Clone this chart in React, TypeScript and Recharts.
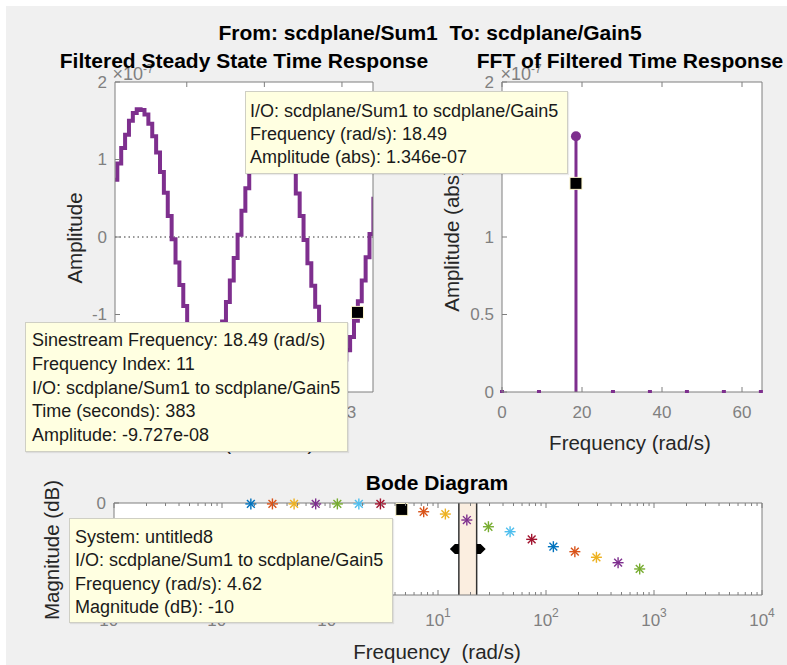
import React from 'react';
import {
  ComposedChart, Line, Bar, Scatter, XAxis, YAxis, CartesianGrid,
  ReferenceLine, ReferenceArea, ReferenceDot,
} from 'recharts';

// ---- Filtered steady state time response (amplitude in units of 1e-7) ----
const timeSec = [
  382.411, 382.421, 382.431, 382.441, 382.451, 382.461, 382.471, 382.481, 382.491, 382.501,
  382.511, 382.521, 382.531, 382.541, 382.551, 382.561, 382.571, 382.581, 382.591, 382.601,
  382.611, 382.621, 382.631, 382.641, 382.651, 382.661, 382.671, 382.681, 382.691, 382.701,
  382.711, 382.721, 382.731, 382.741, 382.751, 382.761, 382.771, 382.781, 382.791, 382.801,
  382.811, 382.821, 382.831, 382.841, 382.851, 382.861, 382.871, 382.881, 382.891, 382.901,
  382.911, 382.921, 382.931, 382.941, 382.951, 382.961, 382.971, 382.981, 382.991, 383.001,
  383.011, 383.021, 383.031, 383.041, 383.051, 383.061, 383.071, 383.081,
];
const timeAmp = [
  0.74, 0.95, 1.15, 1.32, 1.5, 1.6, 1.65, 1.64, 1.58, 1.46,
  1.3, 1.09, 0.84, 0.57, 0.27, -0.03, -0.33, -0.62, -0.89, -1.13,
  -1.34, -1.49, -1.6, -1.65, -1.64, -1.58, -1.46, -1.3, -1.09, -0.84,
  -0.56, -0.27, 0.03, 0.34, 0.63, 0.9, 1.14, 1.34, 1.49, 1.6,
  1.65, 1.64, 1.58, 1.46, 1.29, 1.08, 0.84, 0.56, 0.27, -0.04,
  -0.34, -0.63, -0.9, -1.14, -1.34, -1.49, -1.6, -1.65, -1.64, -1.58,
  -1.46, -1.29, -1.08, -0.83, -0.56, -0.26, 0.04, 0.52,
];
const timeTicks = [382.6, 382.8, 383];
const timeAmpTicks = [-2, -1, 0, 1, 2];
const timeTip = { t: 383.04, v: -0.9727 };

// ---- FFT (amplitude in units of 1e-7) ----
const fftFreq = [0, 9.245, 18.49, 27.74, 36.98, 46.23, 55.47, 64.72];
const fftAmp = [0, 0, 1.65, 0, 0, 0, 0, 0];
const fftFreqTicks = [0, 20, 40, 60];
const fftAmpTicks = [0, 0.5, 1, 1.5, 2];
const fftTip = { f: 18.49, a: 1.346 };

// ---- Bode magnitude ----
const bodeFreq = [0.185, 0.293, 0.465, 0.737, 1.17, 1.85, 2.93, 4.62, 7.37, 11.7, 18.49, 29.3, 46.5, 73.7, 117, 185, 293, 465, 737];
const bodeMag = [-1, -1, -1, -1, -1, -1, -1, -7, -9.5, -12, -18.5, -25.8, -31.2, -39.5, -47.5, -52.9, -59, -64.9, -71.7];
const bodeDecades = [0.01, 0.1, 1, 10, 100, 1000, 10000];
const bodeMinor = [2, 3, 4, 5, 6, 7, 8, 9];
const bodeMagTicks = [-100, -50, 0];
const bodeBand = [15.6, 22.8];
const bodeTip = { f: 4.62, m: -7 };

const matlabColors = ['#0072BD', '#D95319', '#EDB120', '#7E2F8E', '#77AC30', '#4DBEEE', '#A2142F'];

const FONT = '"Liberation Sans", Arial, Helvetica, sans-serif';
const BOX = '#7f7f7f';
const TICK_TXT = '#808080';
const LABEL = '#262626';
const PURPLE = '#7E2F8E';
const TIP_BG = '#ffffe1';

const timeData = timeSec.map((t, i) => ({ t, v: timeAmp[i] }));
const fftData = fftFreq.map((f, i) => ({ f, a: fftAmp[i] }));
const bodeData = bodeFreq.map((f, i) => ({ f, m: bodeMag[i], color: matlabColors[i % matlabColors.length] }));
const bodeTicks = [
  ...bodeDecades,
  ...bodeDecades.slice(0, -1).flatMap((d) => bodeMinor.map((k) => k * d)),
].sort((a, b) => a - b);

const fmt = (v: number) => String(v);

// inward pointing ticks, MATLAB style
const bottomTick = (label: boolean, len = 5) => (p: any) => (
  <g>
    <line x1={p.x} x2={p.x} y1={p.y} y2={p.y - len} stroke={BOX} />
    {label && (
      <text x={p.x} y={p.y + 20} dy="0.35em" textAnchor="middle" fill={TICK_TXT} fontSize={17} fontFamily={FONT}>
        {fmt(p.payload.value)}
      </text>
    )}
  </g>
);
const topTick = (len = 5) => (p: any) => (
  <line x1={p.x} x2={p.x} y1={p.y} y2={p.y + len} stroke={BOX} />
);
const leftTick = (len = 5) => (p: any) => (
  <g>
    <line x1={p.x} x2={p.x + len} y1={p.y} y2={p.y} stroke={BOX} />
    <text x={p.x - 8} y={p.y} dy="0.35em" textAnchor="end" fill={TICK_TXT} fontSize={17} fontFamily={FONT}>
      {fmt(p.payload.value)}
    </text>
  </g>
);
const rightTick = (len = 5) => (p: any) => (
  <line x1={p.x} x2={p.x - len} y1={p.y} y2={p.y} stroke={BOX} />
);

const isDecade = (v: number) => bodeDecades.includes(v);
const bodeBottomTick = (p: any) => {
  const v = p.payload.value;
  const major = isDecade(v);
  return (
    <g>
      <line x1={p.x} x2={p.x} y1={p.y} y2={p.y - (major ? 5 : 3)} stroke={BOX} />
      {major && (
        <text x={p.x} y={p.y + 25} dy="0.35em" textAnchor="middle" fill={TICK_TXT} fontSize={17} fontFamily={FONT}>
          10<tspan dy={-9} fontSize={12}>{Math.round(Math.log10(v))}</tspan>
        </text>
      )}
    </g>
  );
};
const bodeTopTick = (p: any) => {
  const major = isDecade(p.payload.value);
  return <line x1={p.x} x2={p.x} y1={p.y} y2={p.y + (major ? 5 : 3)} stroke={BOX} />;
};

const tipSquare = (p: any) => (
  <rect x={p.cx - 6} y={p.cy - 6} width={12} height={12} fill="#000" stroke="#fff8d0" strokeWidth={1} />
);
const star = (p: any) => {
  const r = 5.5;
  const d = 3.9;
  const c = p.payload.color;
  return (
    <g stroke={c} strokeWidth={1.4}>
      <line x1={p.cx - r} x2={p.cx + r} y1={p.cy} y2={p.cy} />
      <line x1={p.cx} x2={p.cx} y1={p.cy - r} y2={p.cy + r} />
      <line x1={p.cx - d} x2={p.cx + d} y1={p.cy - d} y2={p.cy + d} />
      <line x1={p.cx - d} x2={p.cx + d} y1={p.cy + d} y2={p.cy - d} />
    </g>
  );
};
const stemHead = (p: any) =>
  p.payload.a > 0 ? (
    <circle cx={p.cx} cy={p.cy} r={5} fill={PURPLE} />
  ) : (
    <rect x={p.cx - 2} y={p.cy - 2} width={4} height={3} fill={PURPLE} />
  );
const handleLeft = (p: any) => (
  <polygon points={`${p.cx},${p.cy - 5} ${p.cx - 4},${p.cy - 5} ${p.cx - 9},${p.cy} ${p.cx - 4},${p.cy + 5} ${p.cx},${p.cy + 5}`} fill="#000" />
);
const handleRight = (p: any) => (
  <polygon points={`${p.cx},${p.cy - 5} ${p.cx + 4},${p.cy - 5} ${p.cx + 9},${p.cy} ${p.cx + 4},${p.cy + 5} ${p.cx},${p.cy + 5}`} fill="#000" />
);

const W = 787;
const H = 665;
const layer: React.CSSProperties = { position: 'absolute', left: 0, top: 0 };

// plot box (left, top, right, bottom) -> margins; every axis is 1px thick
const boxMargin = (l: number, t: number, r: number, b: number) => ({
  left: l - 1, top: t - 1, right: W - r - 1, bottom: H - b - 1,
});
const axisCommon = {
  tickSize: 0, tickMargin: 0, tickLine: false, stroke: BOX, interval: 0 as const,
};

const text = (left: number, top: number, size: number, extra: React.CSSProperties = {}): React.CSSProperties => ({
  position: 'absolute', left, top, transform: 'translate(-50%, -50%)', fontFamily: FONT,
  fontSize: size, whiteSpace: 'pre', lineHeight: 1, ...extra,
});
const vtext = (left: number, top: number, size: number): React.CSSProperties => ({
  ...text(left, top, size, { color: LABEL }), transform: 'translate(-50%, -50%) rotate(-90deg)',
});
const tip = (left: number, top: number, width: number, height: number, pad: string, lh: number): React.CSSProperties => ({
  position: 'absolute', left, top, width, height, boxSizing: 'border-box', background: TIP_BG,
  border: '1px solid #cfcfc4', padding: pad, fontFamily: FONT, fontSize: 18, lineHeight: `${lh}px`,
  color: '#1a1a1a', whiteSpace: 'nowrap', boxShadow: '1px 1px 1px rgba(0,0,0,0.08)',
});

export default function App() {
  return (
    <div style={{ position: 'absolute', left: 0, top: 0, width: W, height: H, background: '#fff', overflow: 'hidden' }}>
      <div style={{ position: 'absolute', left: 6, top: 6, width: W - 6, height: H - 6, background: '#f0f0f0' }} />

      {/* time response */}
      <div style={layer}>
        <ComposedChart width={W} height={H} data={timeData} margin={boxMargin(115, 82, 373, 392)}>
          <CartesianGrid fill="#fff" horizontal={false} vertical={false} />
          <XAxis dataKey="t" type="number" domain={[382.415, 383.08]} allowDataOverflow ticks={timeTicks} height={1}
            {...axisCommon} tick={bottomTick(true)} />
          <XAxis xAxisId="top" orientation="top" dataKey="t" type="number" domain={[382.415, 383.08]} allowDataOverflow
            ticks={timeTicks} height={1} {...axisCommon} tick={topTick()} />
          <YAxis type="number" domain={[-2, 2]} ticks={timeAmpTicks} width={1} {...axisCommon} tick={leftTick()} />
          <YAxis yAxisId="r" orientation="right" type="number" domain={[-2, 2]} ticks={timeAmpTicks} width={1}
            {...axisCommon} tick={rightTick()} />
          <ReferenceLine y={0} stroke="#333" strokeDasharray="1.5 3" />
          <Line type="stepAfter" dataKey="v" stroke={PURPLE} strokeWidth={4} dot={false} isAnimationActive={false} />
          <Scatter data={[timeTip]} dataKey="v" shape={tipSquare} isAnimationActive={false} />
        </ComposedChart>
      </div>

      {/* FFT */}
      <div style={layer}>
        <ComposedChart width={W} height={H} data={fftData} margin={boxMargin(502, 82, 762, 392)}>
          <CartesianGrid fill="#fff" horizontal={false} vertical={false} />
          <XAxis dataKey="f" type="number" domain={[0, 65]} ticks={fftFreqTicks} height={1}
            {...axisCommon} tick={bottomTick(true)} />
          <XAxis xAxisId="top" orientation="top" dataKey="f" type="number" domain={[0, 65]}
            ticks={fftFreqTicks} height={1} {...axisCommon} tick={topTick()} />
          <YAxis type="number" domain={[0, 2]} ticks={fftAmpTicks} width={1} {...axisCommon} tick={leftTick()} />
          <YAxis yAxisId="r" orientation="right" type="number" domain={[0, 2]} ticks={fftAmpTicks} width={1}
            {...axisCommon} tick={rightTick()} />
          <Bar dataKey="a" barSize={3} fill={PURPLE} isAnimationActive={false} />
          <Scatter dataKey="a" shape={stemHead} isAnimationActive={false} />
          <Scatter data={[fftTip]} dataKey="a" shape={tipSquare} isAnimationActive={false} />
        </ComposedChart>
      </div>

      {/* Bode */}
      <div style={layer}>
        <ComposedChart width={W} height={H} data={bodeData} margin={boxMargin(114, 503, 762, 595)}>
          <CartesianGrid fill="#fff" horizontal={false} vertical={false} />
          <ReferenceArea x1={bodeBand[0]} x2={bodeBand[1]} y1={-100} y2={0} fill="#fbeee0" fillOpacity={1} stroke="none" />
          <ReferenceLine x={bodeBand[0]} stroke="#333" strokeWidth={1.5} />
          <ReferenceLine x={bodeBand[1]} stroke="#333" strokeWidth={1.5} />
          <XAxis dataKey="f" type="number" scale="log" domain={[0.01, 10000]} ticks={bodeTicks} height={1}
            {...axisCommon} tick={bodeBottomTick} />
          <XAxis xAxisId="top" orientation="top" dataKey="f" type="number" scale="log" domain={[0.01, 10000]}
            ticks={bodeTicks} height={1} {...axisCommon} tick={bodeTopTick} />
          <YAxis type="number" domain={[-100, 0]} ticks={bodeMagTicks} width={1} {...axisCommon} tick={leftTick()} />
          <YAxis yAxisId="r" orientation="right" type="number" domain={[-100, 0]} ticks={bodeMagTicks} width={1}
            {...axisCommon} tick={rightTick()} />
          <ReferenceDot x={bodeBand[0]} y={-50} shape={handleLeft} />
          <ReferenceDot x={bodeBand[1]} y={-50} shape={handleRight} />
          <Scatter dataKey="m" shape={star} isAnimationActive={false} />
          <Scatter data={[bodeTip]} dataKey="m" shape={tipSquare} isAnimationActive={false} />
        </ComposedChart>
      </div>

      {/* exponent labels */}
      <div style={text(133, 73, 18, { color: TICK_TXT })}>×10<sup style={{ fontSize: 12 }}>-7</sup></div>
      <div style={text(521, 73, 18, { color: TICK_TXT })}>×10<sup style={{ fontSize: 12 }}>-7</sup></div>

      {/* titles and labels */}
      <div style={text(430, 32, 21, { fontWeight: 'bold', color: '#000' })}>From: scdplane/Sum1  To: scdplane/Gain5</div>
      <div style={text(244, 60, 21, { fontWeight: 'bold', color: '#000' })}>Filtered Steady State Time Response</div>
      <div style={text(630, 60, 21, { fontWeight: 'bold', color: '#000' })}>FFT of Filtered Time Response</div>
      <div style={vtext(75, 238, 20.5)}>Amplitude</div>
      <div style={vtext(452, 240, 20.5)}>Amplitude (abs)</div>
      <div style={text(244, 443, 20.5, { color: LABEL })}>Time (seconds)</div>
      <div style={text(630, 443, 20.5, { color: LABEL })}>Frequency (rad/s)</div>
      <div style={text(437, 482, 21, { fontWeight: 'bold', color: '#000' })}>Bode Diagram</div>
      <div style={vtext(52, 550, 20.5)}>Magnitude (dB)</div>
      <div style={text(437, 652, 20.5, { color: LABEL })}>Frequency  (rad/s)</div>

      {/* data tips */}
      <div style={tip(245, 91, 323, 83, '8px 4px', 23)}>
        <div>I/O: scdplane/Sum1 to scdplane/Gain5</div>
        <div>Frequency (rad/s): 18.49</div>
        <div>Amplitude (abs): 1.346e-07</div>
      </div>
      <div style={tip(25, 322, 323, 130, '6px 6px', 23.75)}>
        <div>Sinestream Frequency: 18.49 (rad/s)</div>
        <div>Frequency Index: 11</div>
        <div>I/O: scdplane/Sum1 to scdplane/Gain5</div>
        <div>Time (seconds): 383</div>
        <div>Amplitude: -9.727e-08</div>
      </div>
      <div style={tip(69, 518, 324, 105, '7px 5px', 23.3)}>
        <div>System: untitled8</div>
        <div>I/O: scdplane/Sum1 to scdplane/Gain5</div>
        <div>Frequency (rad/s): 4.62</div>
        <div>Magnitude (dB): -10</div>
      </div>
    </div>
  );
}
